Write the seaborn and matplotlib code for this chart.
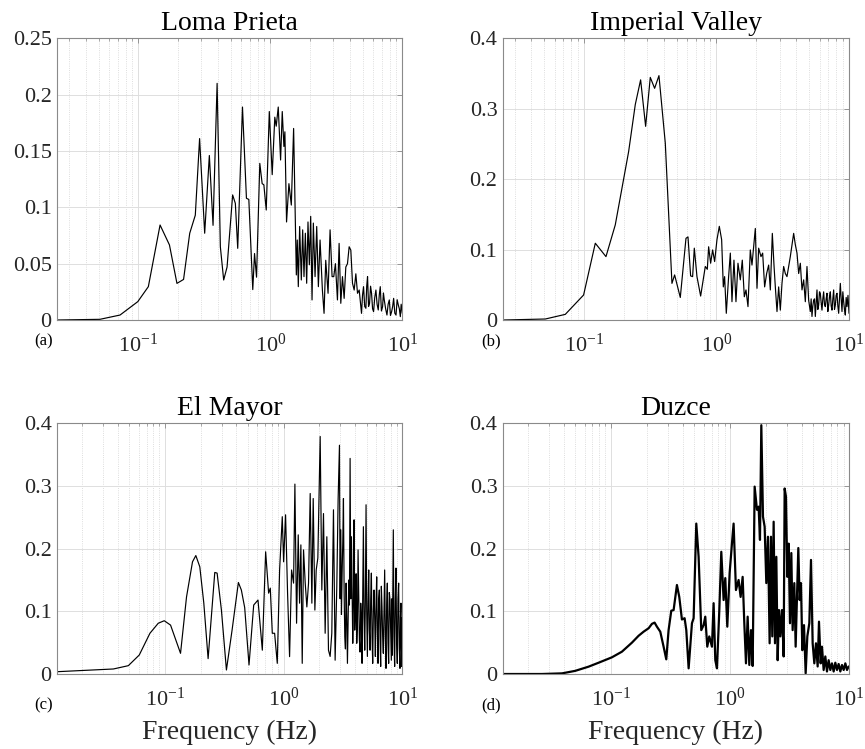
import numpy as np
import pandas as pd
import matplotlib
matplotlib.use("Agg")
import matplotlib.pyplot as plt
import seaborn as sns
from matplotlib.ticker import FuncFormatter, NullFormatter, LogLocator, MultipleLocator

# ---------------- data ----------------
titles = ["Loma Prieta", "Imperial Valley", "El Mayor", "Duzce"]
panel_tags = ["(a)", "(b)", "(c)", "(d)"]

loma_f = [0.0242, 0.0511, 0.0726, 0.099, 0.119, 0.146, 0.172, 0.196, 0.220, 0.245,
          0.270, 0.291, 0.318, 0.345, 0.368, 0.395, 0.418, 0.443, 0.470, 0.518,
          0.543, 0.566, 0.615, 0.659, 0.687, 0.736, 0.759, 0.786, 0.832, 0.867,
          0.893, 0.931, 0.982, 1.033, 1.081, 1.108, 1.148, 1.196, 1.231, 1.267,
          1.289, 1.327, 1.383, 1.442, 1.501, 1.574,
          1.600, 1.629, 1.668, 1.717, 1.758, 1.799, 1.842, 1.885, 1.929, 1.975,
          2.022, 2.070, 2.118, 2.182, 2.246, 2.312, 2.381, 2.480, 2.553, 2.629,
          2.738, 2.836, 2.937, 3.024, 3.113, 3.225, 3.320, 3.419, 3.520, 3.625,
          3.732, 3.842, 3.956, 4.073, 4.194, 4.318, 4.446, 4.577, 4.713,
          4.909, 4.995, 5.084, 5.190, 5.297, 5.375, 5.453, 5.550, 5.648, 5.748,
          5.848, 5.952, 6.058, 6.183, 6.310, 6.441, 6.574, 6.690, 6.808, 6.948,
          7.090, 7.195, 7.301, 7.475, 7.651, 7.810, 7.970, 8.135, 8.302, 8.450,
          8.598, 8.777, 8.959, 9.142, 9.328, 9.495, 9.663, 9.805, 9.947, 10.0]
loma_a = [0.0, 0.0006, 0.0044, 0.0163, 0.0296, 0.0843, 0.0666, 0.0325, 0.036, 0.077,
          0.093, 0.161, 0.077, 0.146, 0.084, 0.21, 0.065, 0.0355, 0.047, 0.111,
          0.1035, 0.0636, 0.189, 0.108, 0.107, 0.027, 0.059, 0.038, 0.139, 0.121,
          0.12, 0.0976, 0.185, 0.129, 0.18, 0.172, 0.189, 0.142, 0.185, 0.154,
          0.167, 0.087, 0.121, 0.102, 0.170, 0.040,
          0.071, 0.0296, 0.083, 0.0355, 0.080, 0.0385, 0.077, 0.0326, 0.087, 0.049,
          0.092, 0.0178, 0.086, 0.0385, 0.083, 0.0296, 0.071, 0.0266, 0.0059, 0.053,
          0.0237, 0.080, 0.0385, 0.0385, 0.050, 0.0178, 0.068, 0.0148, 0.0385, 0.0192,
          0.047, 0.050, 0.065, 0.062, 0.0326, 0.0266, 0.041, 0.0237, 0.0266,
          0.0059, 0.022, 0.0296, 0.012, 0.0104, 0.030, 0.0385, 0.012, 0.0148, 0.030,
          0.0237, 0.010, 0.0074, 0.020, 0.0266, 0.014, 0.0089, 0.022, 0.0296, 0.008,
          0.0118, 0.024, 0.0178, 0.010, 0.0044, 0.014, 0.0178, 0.004, 0.0074, 0.012,
          0.0192, 0.006, 0.0044, 0.018, 0.0133, 0.010, 0.003, 0.014, 0.0089, 0.0059]

imp_f = [0.0245, 0.0511, 0.0723, 0.0994, 0.1218, 0.1466, 0.1723, 0.2173, 0.2440, 0.2677,
         0.2920, 0.3166, 0.3414, 0.3681, 0.4110, 0.4613, 0.4833, 0.5333, 0.5887, 0.6096,
         0.6383, 0.6607, 0.6803, 0.7125, 0.7595, 0.8235, 0.8527, 0.8727, 0.9035, 0.9354,
         0.9685, 1.0086, 1.0505, 1.094, 1.126, 1.152, 1.186, 1.235, 1.272, 1.309,
         1.355, 1.403, 1.453, 1.513, 1.566, 1.622, 1.670, 1.729, 1.800, 1.853,
         1.908, 1.964, 2.022, 2.081, 2.167, 2.231, 2.309, 2.391, 2.476, 2.549,
         2.639, 2.716, 2.780, 2.862, 2.946, 3.032, 3.121, 3.213, 3.307, 3.404,
         3.504, 3.607, 3.714, 3.823, 3.935, 4.051, 4.171, 4.293, 4.419, 4.548,
         4.682, 4.819, 4.961,
         5.106, 5.181, 5.256, 5.333, 5.411, 5.490, 5.570, 5.652, 5.734, 5.818,
         5.902, 5.988, 6.075, 6.164, 6.254, 6.346, 6.438, 6.532, 6.628, 6.725,
         6.823, 6.922, 7.023, 7.126, 7.230, 7.336, 7.443, 7.551, 7.660, 7.772,
         7.886, 8.001, 8.118, 8.236, 8.356, 8.478, 8.602, 8.727, 8.854, 8.984,
         9.115, 9.248, 9.383, 9.520, 9.658, 9.828, 10.0]
imp_a = [0.0, 0.0014, 0.008, 0.0355, 0.109, 0.090, 0.135, 0.239, 0.306, 0.341,
         0.275, 0.3445, 0.329, 0.347, 0.251, 0.052, 0.064, 0.032, 0.116, 0.118,
         0.0626, 0.0616, 0.102, 0.0616, 0.034, 0.076, 0.072, 0.104, 0.0806, 0.0995,
         0.083, 0.114, 0.133, 0.114, 0.047, 0.0616, 0.0095, 0.0616, 0.095, 0.026,
         0.085, 0.026, 0.0806, 0.057, 0.085, 0.033, 0.0427, 0.019, 0.0995, 0.078,
         0.104, 0.130, 0.045, 0.102, 0.090, 0.095, 0.047, 0.066, 0.078, 0.0427,
         0.123, 0.078, 0.047, 0.012, 0.047, 0.014, 0.052, 0.076, 0.066, 0.0616,
         0.076, 0.090, 0.107, 0.123, 0.107, 0.095, 0.066, 0.0806, 0.0427, 0.057,
         0.026, 0.076, 0.028,
         0.012, 0.030, 0.005, 0.020, 0.028, 0.030, 0.005, 0.025, 0.0427, 0.015,
         0.021, 0.040, 0.038, 0.025, 0.014, 0.030, 0.040, 0.022, 0.019, 0.030,
         0.038, 0.012, 0.021, 0.033, 0.040, 0.020, 0.014, 0.030, 0.0427, 0.015,
         0.021, 0.035, 0.038, 0.020, 0.0095, 0.030, 0.052, 0.030, 0.012, 0.040,
         0.026, 0.015, 0.007, 0.032, 0.019, 0.035, 0.0095]

elm_f = [0.01245, 0.0368, 0.0492, 0.0608, 0.0748, 0.0879, 0.0987, 0.1116, 0.1354, 0.1521,
         0.1708, 0.1822, 0.1968, 0.2127, 0.2312, 0.2515, 0.2631, 0.2753, 0.2993, 0.3298,
         0.3680, 0.4159, 0.4406, 0.4700, 0.5112, 0.5598, 0.6085, 0.6617, 0.7058, 0.7479,
         0.7724, 0.8030, 0.8400, 0.8845, 0.9254, 0.9745, 1.0, 1.039, 1.080, 1.123,
         1.167, 1.213, 1.245, 1.286, 1.328, 1.363, 1.398, 1.435, 1.472, 1.521,
         1.570, 1.622, 1.675, 1.730, 1.776, 1.834, 1.882, 1.943, 2.033, 2.099,
         2.168, 2.239, 2.313, 2.388, 2.466, 2.547, 2.631, 2.717, 2.806, 2.879,
         2.955, 2.993, 3.032, 3.072, 3.112, 3.152, 3.193, 3.235, 3.277, 3.319,
         3.362, 3.406, 3.450, 3.495, 3.540, 3.586, 3.633, 3.680, 3.728, 3.776,
         3.825, 3.875, 3.925, 3.976, 4.027, 4.079, 4.132, 4.186, 4.240, 4.295,
         4.351, 4.408, 4.465, 4.523, 4.581, 4.641, 4.701, 4.762, 4.824, 4.887,
         4.950, 5.014, 5.079, 5.145, 5.212, 5.280, 5.348, 5.418, 5.489, 5.560,
         5.632, 5.705, 5.779, 5.854, 5.930, 6.007, 6.085, 6.164, 6.244, 6.325,
         6.407, 6.490, 6.575, 6.660, 6.746, 6.833, 6.922, 7.012, 7.103, 7.195,
         7.289, 7.384, 7.480, 7.577, 7.675, 7.775, 7.876, 7.978, 8.082, 8.160,
         8.240, 8.320, 8.400, 8.509, 8.620, 8.732, 8.845, 8.960, 9.076, 9.194,
         9.313, 9.434, 9.557, 9.650, 9.743, 9.806, 9.87, 9.95]
elm_a = [0.0037, 0.008, 0.0133, 0.0303, 0.065, 0.081, 0.085, 0.078, 0.033, 0.123,
         0.179, 0.189, 0.171, 0.113, 0.0245, 0.113, 0.162, 0.161, 0.102, 0.0064,
         0.070, 0.146, 0.134, 0.106, 0.0144, 0.110, 0.118, 0.038, 0.195, 0.129,
         0.137, 0.065, 0.065, 0.017, 0.166, 0.251, 0.179, 0.254, 0.129, 0.0277,
         0.166, 0.145, 0.303, 0.081, 0.222, 0.113, 0.206, 0.017, 0.198, 0.145,
         0.107, 0.145, 0.288, 0.113, 0.280, 0.102, 0.166, 0.185, 0.379, 0.134,
         0.256, 0.065, 0.219, 0.038, 0.028, 0.065, 0.262, 0.022, 0.139, 0.278,
         0.365, 0.120, 0.230, 0.095, 0.161, 0.210, 0.280, 0.130, 0.060, 0.040,
         0.145, 0.090, 0.017, 0.080, 0.150, 0.110, 0.344, 0.120, 0.219, 0.140,
         0.049, 0.110, 0.246, 0.070, 0.102, 0.160, 0.049, 0.080, 0.198, 0.120,
         0.054, 0.035, 0.113, 0.090, 0.017, 0.120, 0.235, 0.090, 0.038, 0.120,
         0.270, 0.100, 0.028, 0.110, 0.166, 0.070, 0.038, 0.120, 0.161, 0.060,
         0.017, 0.100, 0.134, 0.090, 0.028, 0.110, 0.155, 0.070, 0.017, 0.120,
         0.134, 0.060, 0.012, 0.140, 0.107, 0.060, 0.033, 0.100, 0.166, 0.060,
         0.009, 0.110, 0.145, 0.050, 0.017, 0.130, 0.118, 0.070, 0.022, 0.120,
         0.030, 0.140, 0.230, 0.060, 0.012, 0.120, 0.169, 0.050, 0.017, 0.120,
         0.145, 0.040, 0.009, 0.090, 0.113, 0.050, 0.012, 0.090]

duz_f = [0.01238, 0.0263, 0.0388, 0.0501, 0.0649, 0.0788, 0.1019, 0.1237, 0.1501, 0.1708,
         0.1881, 0.2073, 0.2211, 0.2327, 0.2435, 0.2598, 0.2770, 0.2917, 0.3051, 0.3214,
         0.3362, 0.3585, 0.3751, 0.3949, 0.4159, 0.4297, 0.4496, 0.4794, 0.4951, 0.5213,
         0.5453, 0.5741, 0.6007, 0.6203, 0.6448, 0.6703, 0.7058, 0.7289, 0.7530, 0.7777,
         0.8138, 0.8457, 0.8846, 0.9137, 0.9497, 0.9936, 1.039, 1.073, 1.123, 1.182,
         1.229, 1.278, 1.320, 1.363, 1.408, 1.454, 1.502, 1.551, 1.612, 1.686,
         1.741, 1.787, 1.834, 1.894, 1.956, 2.020, 2.086, 2.154, 2.211, 2.268,
         2.328, 2.389, 2.452, 2.516, 2.581, 2.649, 2.735, 2.825, 2.880, 2.955,
         3.033, 3.112, 3.193, 3.277, 3.362, 3.472, 3.563, 3.656, 3.752, 3.849,
         3.950, 4.054, 4.187, 4.324, 4.466, 4.642, 4.794, 4.951, 5.113, 5.280,
         5.454, 5.596, 5.779, 5.930, 6.124, 6.325, 6.532, 6.746, 6.967, 7.195,
         7.432, 7.675, 7.927, 8.187, 8.455, 8.733, 9.019, 9.316, 9.621, 9.94]
duz_a = [0.0, 0.0, 0.001, 0.005, 0.0117, 0.018, 0.0266, 0.0356, 0.050, 0.061,
         0.0675, 0.073, 0.080, 0.082, 0.0755, 0.0675, 0.0436, 0.0234, 0.070, 0.101,
         0.102, 0.142, 0.123, 0.087, 0.089, 0.070, 0.009, 0.081, 0.089, 0.240,
         0.187, 0.070, 0.078, 0.0915, 0.0436, 0.060, 0.0436, 0.113, 0.022, 0.009,
         0.102, 0.195, 0.118, 0.153, 0.0755, 0.161, 0.208, 0.240, 0.134, 0.150,
         0.123, 0.155, 0.081, 0.017, 0.0915, 0.0144, 0.070, 0.0128, 0.299, 0.262,
         0.267, 0.214, 0.397, 0.251, 0.235, 0.145, 0.219, 0.049, 0.219, 0.060,
         0.243, 0.049, 0.187, 0.022, 0.102, 0.060, 0.102, 0.028, 0.296, 0.283,
         0.155, 0.208, 0.081, 0.193, 0.070, 0.145, 0.0436, 0.123, 0.201, 0.118,
         0.145, 0.038, 0.078, 0.001, 0.060, 0.081, 0.182, 0.049, 0.017, 0.049,
         0.012, 0.0835, 0.017, 0.0436, 0.0064, 0.028, 0.004, 0.022, 0.0064, 0.017,
         0.004, 0.018, 0.0064, 0.016, 0.004, 0.0144, 0.0064, 0.017, 0.0064, 0.012]

y_max = [0.25, 0.4, 0.4, 0.4]
y_step = [0.05, 0.1, 0.1, 0.1]
x_min = [0.0243, 0.0245, 0.0124, 0.0124]

# ---------------- style ----------------
sns.set_theme(style="white")
plt.rcParams["font.family"] = ["Liberation Serif", "DejaVu Serif"]
plt.rcParams["mathtext.fontset"] = "custom"
plt.rcParams["mathtext.rm"] = "Liberation Serif"
plt.rcParams["mathtext.it"] = "Liberation Serif:italic"
plt.rcParams["mathtext.bf"] = "Liberation Serif:bold"

fig = plt.figure(figsize=(8.65, 7.49), dpi=100)
fig.patch.set_facecolor("white")

W, H = 865.0, 749.0
boxes = [(57.3, 38.3, 402.3, 320.0), (503.0, 38.3, 849.0, 320.0),
         (57.3, 423.3, 402.3, 674.0), (503.0, 423.3, 849.0, 674.0)]
tag_pos = [(44, 341), (491, 341), (44, 705), (491, 705)]

series = [(loma_f, loma_a), (imp_f, imp_a), (elm_f, elm_a), (duz_f, duz_a)]
lws = [0.85, 0.85, 0.85, 1.6]
text_col = "#262626"
spine_col = "#8a8a8a"

for i, ((fx, ay), (l, t, r, b)) in enumerate(zip(series, boxes)):
    ax = fig.add_axes([l / W, 1 - b / H, (r - l) / W, (b - t) / H])
    df = pd.DataFrame({"Frequency": fx, "Amplitude": ay})
    sns.lineplot(data=df, x="Frequency", y="Amplitude", ax=ax, color="black",
                 linewidth=lws[i], estimator=None, sort=False)
    ax.set_xscale("log")
    ax.set_xlim(x_min[i], 10)
    ax.set_ylim(0, y_max[i])
    ax.yaxis.set_major_locator(MultipleLocator(y_step[i]))
    ax.yaxis.set_major_formatter(FuncFormatter(lambda v, p: "%g" % round(v, 3)))
    ax.xaxis.set_major_locator(LogLocator(base=10, numticks=10))
    ax.xaxis.set_minor_locator(LogLocator(base=10, subs=np.arange(2, 10), numticks=20))
    ax.xaxis.set_minor_formatter(NullFormatter())
    ax.grid(True, which="major", axis="both", color="#dedede", linewidth=0.7, linestyle="-")
    ax.grid(True, which="minor", axis="x", color="#d2d2d2", linewidth=0.6, linestyle=":")
    ax.set_axisbelow(True)
    for s in ax.spines.values():
        s.set_color(spine_col)
        s.set_linewidth(0.8)
    ax.tick_params(which="both", direction="in", top=True, right=True,
                   color=spine_col, labelcolor=text_col)
    ax.tick_params(which="major", length=3.5, width=0.6, labelsize=16)
    ax.tick_params(axis="y", which="major", pad=4)
    ax.tick_params(axis="x", which="major", pad=10)
    ax.tick_params(which="minor", length=2, width=0.5)
    ax.set_title(titles[i], fontsize=20, color="black", pad=6)
    ax.set_ylabel("")
    if i >= 2:
        ax.set_xlabel("Frequency (Hz)", fontsize=20, color=text_col, labelpad=6)
    else:
        ax.set_xlabel("")
    fig.text(tag_pos[i][0] / W, 1 - tag_pos[i][1] / H, panel_tags[i], fontsize=12,
             color="black", ha="center", va="center")

fig.savefig("out.png", dpi=100, facecolor="white")
